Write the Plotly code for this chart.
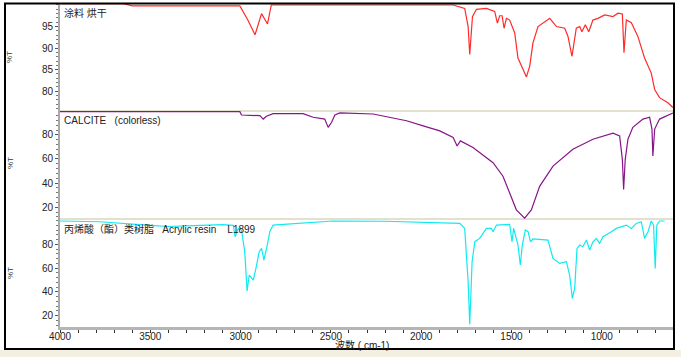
import plotly.graph_objects as go
from plotly.subplots import make_subplots

# ---- data ----
wn_coating = [4000, 3650, 3600, 3004, 2960, 2920, 2884, 2851, 2830, 1823,
              1759, 1740, 1731, 1716, 1694, 1639, 1593, 1578, 1565, 1552,
              1541, 1528, 1510, 1482, 1464, 1436, 1417, 1399, 1381, 1353,
              1288, 1251, 1205, 1187, 1165, 1141, 1122, 1110, 1091, 1072,
              1049, 1021, 984, 938, 910, 886, 877, 864, 836, 800,
              763, 726, 707, 680, 634, 606]
t_coating = [100.3, 100.3, 99.8, 99.8, 96.5, 93.1, 98, 95.6, 100, 100,
             99.2, 95, 88.5, 97.3, 99, 99.2, 98.5, 95.8, 97.5, 97.5,
             94.6, 96.9, 96.5, 93.5, 87.7, 85, 83.3, 85.8, 91.2, 95,
             96.9, 95, 94.6, 92.7, 88.1, 94.6, 95, 93.8, 95.4, 93.8,
             96.5, 96.9, 97.7, 97.3, 98.1, 97.9, 88.9, 96.5, 95.9, 92.7,
             87.7, 84.2, 80.4, 78.5, 77.3, 76.2]

wn_calcite = [4000, 3004, 2995, 2893, 2875, 2857, 2820, 2654, 2598, 2534,
              2515, 2496, 2478, 2450, 2266, 2174, 2081, 1989, 1897, 1823,
              1801, 1783, 1713, 1602, 1547, 1510, 1473, 1427, 1390, 1344,
              1270, 1160, 1049, 938, 901, 886, 879, 870, 855, 828,
              772, 735, 722, 717, 707, 680, 606]
t_calcite = [99.2, 99.2, 96.5, 95.9, 93.1, 95.4, 97.6, 97.6, 94.6, 93.1,
             86.2, 90.4, 96.5, 98.2, 97.3, 94.6, 91.7, 87.5, 83.3, 77.8,
             70.8, 75, 69.5, 56.9, 45.7, 31.8, 17.8, 10.9, 17.8, 37.3,
             54.1, 68, 76.4, 81.4, 79.2, 59.7, 34.6, 59.7, 76.4, 86.2,
             93.1, 94.6, 84.8, 62.4, 84.8, 93.1, 98.2]

wn_acrylic = [4000, 3779, 3500, 3400, 3300, 3100, 3040, 3032, 3030, 3013,
              2995, 2977, 2964, 2952, 2946, 2930, 2915, 2897, 2884, 2871,
              2856, 2838, 2820, 2489, 2200, 1952, 1786, 1759, 1740, 1731,
              1718, 1703, 1676, 1639, 1611, 1602, 1583, 1510, 1497, 1488,
              1464, 1451, 1440, 1423, 1408, 1395, 1381, 1298, 1270, 1233,
              1196, 1178, 1163, 1150, 1137, 1122, 1105, 1085, 1067, 1049,
              1030, 1012, 993, 947, 920, 864, 836, 809, 781, 763,
              744, 726, 713, 704, 695, 680, 652]
t_acrylic = [99.6, 99, 96, 95, 95.5, 96.5, 96, 89.2, 86.4, 93.4,
             92, 73.8, 40.8, 54.2, 52.8, 50, 59.8, 73.8, 76.6, 66.8,
             76.6, 90.6, 96.2, 99.6, 99.4, 98.5, 97.6, 93.4, 48.6, 12.8,
             65.4, 82.2, 85, 93.4, 93.4, 90.6, 96.2, 96.8, 82.2, 93.4,
             79.4, 62.6, 79.4, 92, 90.6, 82.2, 84.5, 83.6, 68.2, 64,
             65.4, 54.2, 34.6, 43, 76.6, 79.4, 78, 83.6, 75.2, 82.2,
             85, 80.8, 86.4, 90.6, 93.4, 96.2, 93.4, 97.6, 99, 85,
             90.6, 99.6, 96.2, 59.8, 96.2, 99.6, 99.6]

x_ticks = [4000, 3500, 3000, 2500, 2000, 1500, 1000]
y_ticks_top = [80, 85, 90, 95]
y_ticks_mid = [20, 40, 60, 80]
y_ticks_bot = [20, 40, 60, 80]

NB = "\u00a0"
labels = ["涂料 烘干",
          "CALCITE" + NB * 3 + "(colorless)",
          "丙烯酸（酯）类树脂" + NB * 3 + "Acrylic resin" + NB * 4 + "L1899"]
x_title = "波数 ( cm-1)"
y_title = "%T"

FONT = "Liberation Sans, Arial, Noto Sans CJK SC, sans-serif"

fig = make_subplots(rows=3, cols=1, shared_xaxes=True, vertical_spacing=0)

fig.add_trace(go.Scatter(x=wn_coating, y=t_coating, mode="lines",
                         line=dict(color="#ff2a2a", width=1.2)), row=1, col=1)
fig.add_trace(go.Scatter(x=wn_calcite, y=t_calcite, mode="lines",
                         line=dict(color="#86158a", width=1.2)), row=2, col=1)
fig.add_trace(go.Scatter(x=wn_acrylic, y=t_acrylic, mode="lines",
                         line=dict(color="#10eaf0", width=1.2)), row=3, col=1)

H = 324.0
def py(ypix):
    return (327.0 - ypix) / H

fig.update_layout(
    width=681, height=357,
    margin=dict(l=60, r=7, t=3, b=30),
    paper_bgcolor="white", plot_bgcolor="white",
    showlegend=False,
    font=dict(family=FONT, size=10, color="#222"),
)

yax_common = dict(showline=True, linecolor="#a9a9a9", linewidth=2, ticks="outside",
                  ticklen=3, tickcolor="#555", tickwidth=1, showgrid=False, zeroline=False,
                  tickfont=dict(size=10, color="#222", family=FONT))

fig.update_yaxes(range=[75.4, 100.46], tickvals=y_ticks_top, domain=[2/3, 1.0],
                 minor=dict(dtick=1, ticks="outside", ticklen=2, tickcolor="#777"),
                 row=1, col=1, **yax_common)
fig.update_yaxes(range=[10.2, 99.8], tickvals=y_ticks_mid, domain=[1/3, 2/3],
                 minor=dict(dtick=4, ticks="outside", ticklen=2, tickcolor="#777"),
                 row=2, col=1, **yax_common)
fig.update_yaxes(range=[10.5, 101.3], tickvals=y_ticks_bot, domain=[0.0, 1/3],
                 minor=dict(dtick=4, ticks="outside", ticklen=2, tickcolor="#777"),
                 row=3, col=1, **yax_common)

for r in (1, 2):
    fig.update_xaxes(range=[4000, 600], showticklabels=False, ticks="",
                     showline=False, showgrid=False, zeroline=False, row=r, col=1)
fig.update_xaxes(range=[4000, 600], tickvals=x_ticks, ticks="outside", ticklen=3,
                 tickcolor="#333", showline=True, linecolor="#b5b5b5", linewidth=3,
                 showgrid=False, zeroline=False, ticklabelstandoff=-5,
                 minor=dict(dtick=100, tick0=0, ticks="outside", ticklen=3, tickcolor="#333"),
                 tickfont=dict(size=10, color="#222", family=FONT),
                 row=3, col=1)

shapes = []
# panel separators
for yy in (2/3, 1/3):
    shapes.append(dict(type="line", xref="paper", yref="paper", x0=0, x1=1, y0=yy, y1=yy,
                       line=dict(color="#e4e0cf", width=2), layer="below"))
# beige strip at the bottom
shapes.append(dict(type="rect", xref="paper", yref="paper",
                   x0=-60/614, x1=621/614, y0=py(357), y1=py(350),
                   fillcolor="#f3f0e1", line=dict(width=0), layer="below"))
# outer frame
shapes.append(dict(type="rect", xref="paper", yref="paper",
                   x0=(5-60)/614, x1=1.0, y0=py(349), y1=py(3.5),
                   line=dict(color="black", width=2), fillcolor="rgba(0,0,0,0)"))
fig.update_layout(shapes=shapes)

ann = []
for text, ypix in zip(labels, (13, 121, 229)):
    ann.append(dict(text=text, xref="paper", yref="paper", x=2/614, y=py(ypix),
                    xanchor="left", yanchor="middle", showarrow=False,
                    font=dict(size=10, color="#222", family=FONT)))
for ypix in (57, 163, 273):
    ann.append(dict(text=y_title, xref="paper", yref="paper", x=(10-60)/614, y=py(ypix),
                    xanchor="center", yanchor="middle", showarrow=False, textangle=-90,
                    font=dict(size=8, color="#333", family=FONT)))
ann.append(dict(text=x_title, xref="paper", yref="paper", x=(362-60)/614, y=py(345),
                xanchor="center", yanchor="middle", showarrow=False,
                font=dict(size=10, color="#222", family=FONT)))
fig.update_layout(annotations=ann)

fig.write_html("out.html", config={"displayModeBar": False},
               post_script="document.body.style.margin='0';")
